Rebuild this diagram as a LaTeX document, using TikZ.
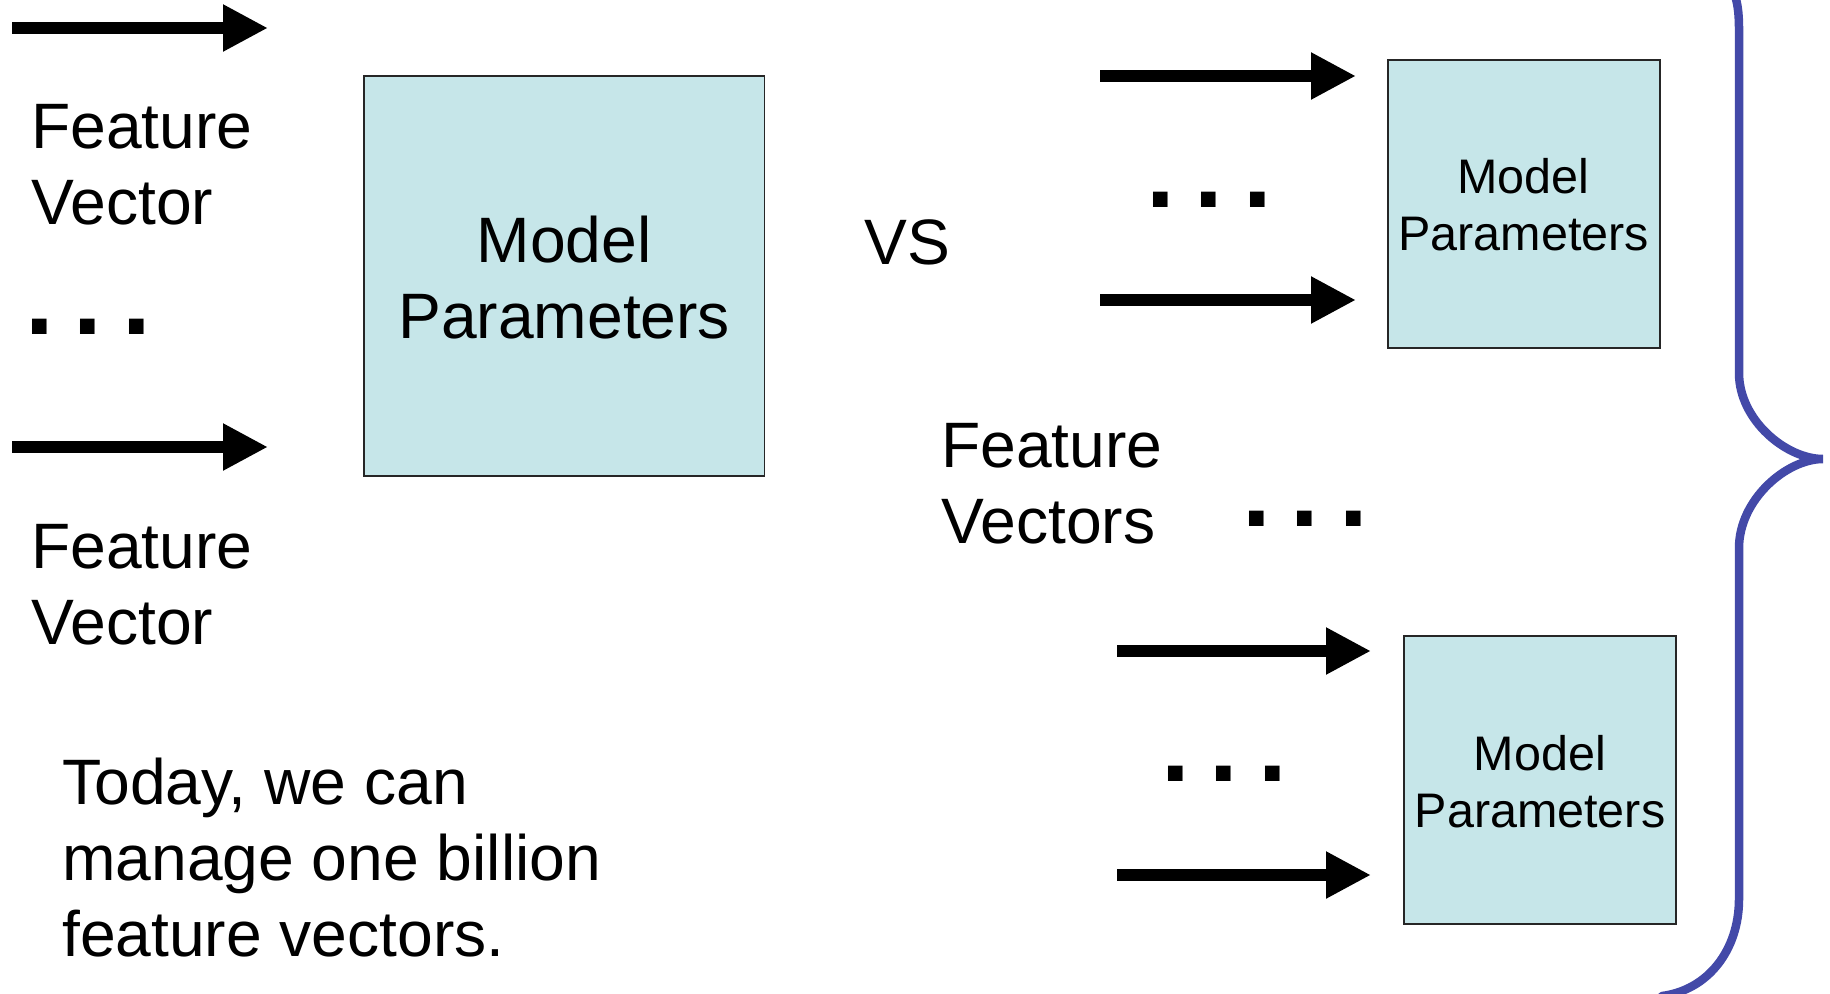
\documentclass[tikz,border=0pt]{standalone}
\usepackage{fontspec}
\setmainfont{Liberation Sans}
\usetikzlibrary{arrows.meta,calc}
\definecolor{boxfill}{RGB}{198,230,233}
\definecolor{bracecol}{RGB}{67,73,168}
\begin{document}
\begin{tikzpicture}[x={(1pt,0pt)},y={(0pt,-1pt)},
  % multi-line text nodes are placed by the baseline of their last line
  bigtext/.style={font=\fontsize{64.2}{76}\selectfont, inner sep=0pt, align=left, anchor=base west},
  boxtext/.style={font=\fontsize{64.2}{76}\selectfont, inner sep=0pt, align=center, anchor=base},
  smalltext/.style={font=\fontsize{48.5}{57}\selectfont, inner sep=0pt, align=center, anchor=base},
  pbox/.style={draw=black!85, line width=1.8pt, fill=boxfill, inner sep=0pt},
  feed/.style={line width=11.7pt, -{Triangle[length=45pt,width=44pt]}},
  dotrow/.style={font=\fontsize{103}{103}\selectfont\bfseries, inner sep=0pt, anchor=base west},
  bracepath/.style={draw=bracecol, line width=8.5pt, line cap=round}]
\useasboundingbox (0,0) rectangle (1830,993);
\clip (0,0) rectangle (1830,993);

% single model, fed one vector at a time
\coordinate (l1s) at (12,28);   \coordinate (l1e) at (268,28);
\coordinate (l2s) at (12,447);  \coordinate (l2e) at (268,447);
\draw[feed] (l1s) -- (l1e);
\draw[feed] (l2s) -- (l2e);
\node[bigtext] (fv1) at (31,224) {Feature\\Vector};
\node[dotrow] (d1) at (25,334) {.\kern20pt.\kern20pt.};
\node[bigtext] (fv2) at (31,644) {Feature\\Vector};
\node[pbox, minimum width=400.5pt, minimum height=400pt] (bigbox) at (564.2,276) {};
\node[boxtext] (bigtxt) at (564.2,338) {Model\\Parameters};
\node[bigtext] (vs) at (864,264) {VS};

% many model copies, each fed its own vectors
\coordinate (r1s) at (1100,76);   \coordinate (r1e) at (1356,76);
\coordinate (r2s) at (1100,300);  \coordinate (r2e) at (1356,300);
\draw[feed] (r1s) -- (r1e);
\draw[feed] (r2s) -- (r2e);
\node[dotrow] (d2) at (1146,207) {.\kern20pt.\kern20pt.};
\node[pbox, minimum width=272pt, minimum height=288pt] (tbox) at (1523.6,203.6) {};
\node[smalltext] (ttxt) at (1523.6,250) {Model\\Parameters};

\node[bigtext] (fvs) at (941,543) {Feature\\Vectors};
\node[dotrow] (d3) at (1242,526) {.\kern20pt.\kern20pt.};

\coordinate (r3s) at (1117,651);  \coordinate (r3e) at (1371,651);
\coordinate (r4s) at (1117,875);  \coordinate (r4e) at (1371,875);
\draw[feed] (r3s) -- (r3e);
\draw[feed] (r4s) -- (r4e);
\node[dotrow] (d4) at (1161,781) {.\kern20pt.\kern20pt.};
\node[pbox, minimum width=272pt, minimum height=288pt] (bbox) at (1540,780) {};
\node[smalltext] (btxt) at (1540,827) {Model\\Parameters};

\node[bigtext] (today) at (62,956) {Today, we can\\manage one billion\\feature vectors.};

% curly brace grouping the copies
\draw[bracepath] (1733,-10) .. controls (1737,0) and (1739,10) .. (1739,30)
  -- (1739,373) .. controls (1739,420) and (1786,459) .. (1823,459)
  .. controls (1786,459) and (1739,500) .. (1739,548)
  -- (1739,899) .. controls (1739,950) and (1708,990) .. (1662,996);
\end{tikzpicture}
\end{document}
